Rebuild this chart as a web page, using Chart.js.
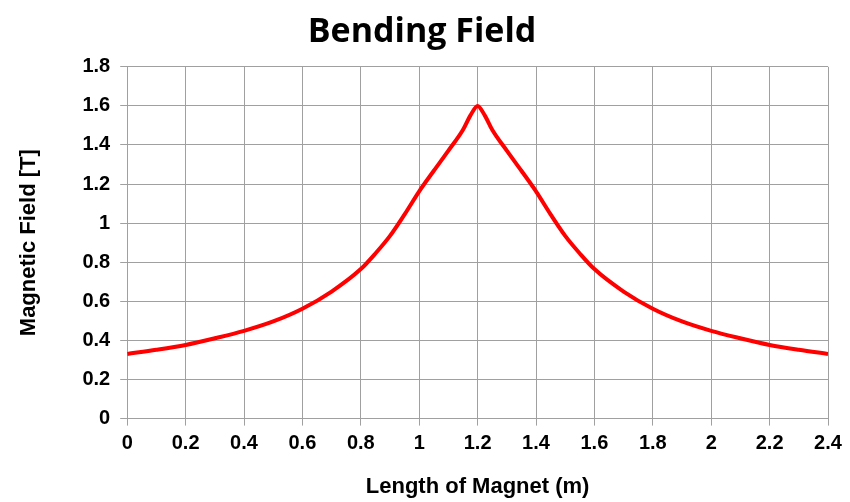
<!DOCTYPE html>
<html lang="en">
<head>
  <meta charset="UTF-8">
  <title>Bending Field</title>
  <script src="https://cdn.jsdelivr.net/npm/chart.js"></script>
  <style>
    html, body { margin: 0; padding: 0; background: #fff; }
    #wrap { width: 850px; height: 502px; position: relative; }
  </style>
</head>
<body>
  <div id="wrap"><canvas id="fieldChart"></canvas></div>
  <script>
    // DATA - field along the magnet
    const posM = [0, 0.1, 0.2, 0.3, 0.4, 0.5, 0.6, 0.7, 0.8, 0.85, 0.9, 0.95, 1.0, 1.05, 1.1, 1.15, 1.175, 1.2,
                  1.225, 1.25, 1.3, 1.35, 1.4, 1.45, 1.5, 1.55, 1.6, 1.7, 1.8, 1.9, 2.0, 2.1, 2.2, 2.3, 2.4];
    const fieldT = [0.331, 0.352, 0.377, 0.411, 0.449, 0.497, 0.562, 0.65, 0.765, 0.845, 0.935, 1.045, 1.163, 1.268, 1.371, 1.478, 1.55, 1.60,
                    1.55, 1.478, 1.371, 1.268, 1.163, 1.045, 0.935, 0.845, 0.765, 0.65, 0.562, 0.497, 0.449, 0.411, 0.377, 0.352, 0.331];
    const xTicks = [0, 0.2, 0.4, 0.6, 0.8, 1, 1.2, 1.4, 1.6, 1.8, 2, 2.2, 2.4];
    const yTicks = [0, 0.2, 0.4, 0.6, 0.8, 1, 1.2, 1.4, 1.6, 1.8];

    const tickFont = { family: '"Liberation Sans", Arial, sans-serif', size: 20, weight: 'bold' };
    const gridCol = '#a0a0a0';
    const fmt = v => String(Math.round(v * 10) / 10);

    new Chart(document.getElementById('fieldChart'), {
      type: 'line',
      data: {
        datasets: [{
          label: 'Bending Field',
          data: posM.map((x, i) => ({ x: x, y: fieldT[i] })),
          borderColor: '#ff0000',
          borderWidth: 4,
          pointRadius: 0,
          cubicInterpolationMode: 'monotone'
        }]
      },
      options: {
        responsive: true,
        maintainAspectRatio: false,
        animation: false,
        layout: { padding: { left: 16, right: 22, top: 6, bottom: 2 } },
        plugins: {
          legend: { display: false },
          tooltip: { enabled: false },
          title: {
            display: true,
            text: 'Bending Field',
            color: '#000',
            font: { family: '"Open Sans", sans-serif', size: 34, weight: 'bold' },
            padding: { top: 6, bottom: 14 }
          }
        },
        scales: {
          x: {
            type: 'linear',
            min: 0, max: 2.4,
            afterBuildTicks: ax => { ax.ticks = xTicks.map(v => ({ value: v })); },
            ticks: { color: '#000', font: tickFont, maxRotation: 0, padding: 6, callback: fmt },
            grid: { color: gridCol, tickLength: 7, tickColor: gridCol },
            border: { color: gridCol },
            title: {
              display: true,
              text: 'Length of Magnet (m)',
              color: '#000',
              font: { family: '"Liberation Sans", Arial, sans-serif', size: 22, weight: 'bold' },
              padding: { top: 12, bottom: 0 }
            }
          },
          y: {
            min: 0, max: 1.8,
            afterBuildTicks: ax => { ax.ticks = yTicks.map(v => ({ value: v })); },
            ticks: { color: '#000', font: tickFont, padding: 10, callback: fmt },
            grid: { color: gridCol, tickLength: 7, tickColor: gridCol },
            border: { color: gridCol },
            title: {
              display: true,
              text: 'Magnetic Field [T]',
              color: '#000',
              font: { family: '"Liberation Sans", Arial, sans-serif', size: 22, weight: 'bold' },
              padding: { top: 0, bottom: 30 }
            }
          }
        }
      }
    });
  </script>
</body>
</html>
